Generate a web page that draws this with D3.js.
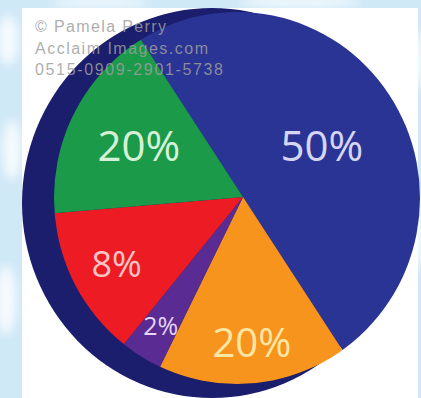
<!DOCTYPE html>
<html>
<head>
<meta charset="utf-8">
<script src="https://cdn.jsdelivr.net/npm/d3@7"></script>
<style>
  html, body { margin: 0; padding: 0; background: #d3ebf8; overflow: hidden; }
  svg { display: block; }
</style>
</head>
<body>
<svg id="chart" width="421" height="398"></svg>
<script>
// ---- data ----
const labels = ["50%", "20%", "2%", "8%", "20%"];          // printed slice labels
const shares = [50, 16.4, 3.6, 12.8, 17.2];                  // drawn slice sizes (share of the circle)
const sliceColors = ["#2a3494", "#f7941e", "#5a2b92", "#ed1c24", "#1b9a4a"];
const watermark = ["© Pamela Perry", "Acclaim Images.com", "0515-0909-2901-5738"];

// ---- styling / layout ----
const W = 421, H = 398;
const labelStyle = [
  { r: 94,  size: 42, color: "#d6d6f4" },
  { r: 146, size: 40, color: "#fbe6a4" },
  { r: 153, size: 25, color: "#e4d6f4" },
  { r: 143, size: 36, color: "#f8c4c4" },
  { r: 116, size: 42, color: "#d6f2d6" }
];
const apex = { x: 243, y: 197 };
const face = { cx: 237, cy: 198, rx: 183, ry: 186 };
const rim  = { cx: 212, cy: 203, rx: 190, ry: 195 };
const deg = Math.PI / 180;

const svg = d3.select("#chart");
const defs = svg.append("defs");

// soft background texture
const blur = defs.append("filter").attr("id", "blur").attr("x", "-50%").attr("y", "-50%").attr("width", "200%").attr("height", "200%");
blur.append("feGaussianBlur").attr("stdDeviation", 5);
svg.append("rect").attr("width", W).attr("height", H).attr("fill", "#d0e9f7");
const blobs = [[8, 40, 10, 25], [12, 150, 9, 30], [6, 300, 10, 35], [415, 60, 8, 30], [418, 230, 6, 40], [300, 2, 60, 5], [100, 3, 50, 4]];
svg.append("g").attr("filter", "url(#blur)")
  .selectAll("ellipse").data(blobs).join("ellipse")
  .attr("cx", d => d[0]).attr("cy", d => d[1]).attr("rx", d => d[2]).attr("ry", d => d[3])
  .attr("fill", "#ffffff").attr("opacity", 0.8);

// white panel
svg.append("rect").attr("x", 22).attr("y", 8).attr("width", 396).attr("height", 390).attr("fill", "#ffffff");

// pie thickness (rim)
svg.append("ellipse")
  .attr("cx", rim.cx).attr("cy", rim.cy).attr("rx", rim.rx).attr("ry", rim.ry)
  .attr("fill", "#1b1e6c");

// face clip
defs.append("clipPath").attr("id", "faceClip")
  .append("ellipse")
  .attr("cx", face.cx).attr("cy", face.cy).attr("rx", face.rx).attr("ry", face.ry);

const pie = d3.pie().sort(null).value(d => d)
  .startAngle(-33 * deg).endAngle(327 * deg);
const arcs = pie(shares);
const arc = d3.arc().innerRadius(0).outerRadius(320);

const g = svg.append("g").attr("clip-path", "url(#faceClip)")
  .append("g").attr("transform", `translate(${apex.x},${apex.y})`);
g.selectAll("path").data(arcs).join("path")
  .attr("d", arc)
  .attr("fill", (d, i) => sliceColors[i]);

// labels
const lg = svg.append("g").attr("transform", `translate(${apex.x},${apex.y})`);
lg.selectAll("text").data(arcs).join("text")
  .attr("transform", (d, i) => {
    const c = d3.arc().innerRadius(labelStyle[i].r).outerRadius(labelStyle[i].r).centroid(d);
    return `translate(${c[0]},${c[1]})`;
  })
  .attr("text-anchor", "middle")
  .attr("dy", "0.36em")
  .attr("font-family", "'Open Sans', 'Noto Sans', sans-serif")
  .attr("font-size", (d, i) => labelStyle[i].size)
  .attr("fill", (d, i) => labelStyle[i].color)
  .text((d, i) => labels[i]);

// watermark
const wmWidths = [131, 173, 188];
svg.append("g").selectAll("text").data(watermark).join("text")
  .attr("x", 35)
  .attr("y", (d, i) => 32 + i * 21.5)
  .attr("font-family", "'Liberation Sans', Arial, sans-serif")
  .attr("font-size", 16)
  .attr("textLength", (d, i) => wmWidths[i])
  .attr("lengthAdjust", "spacing")
  .attr("fill", "#9e9e9e")
  .attr("fill-opacity", 0.85)
  .text(d => d);
</script>
</body>
</html>
